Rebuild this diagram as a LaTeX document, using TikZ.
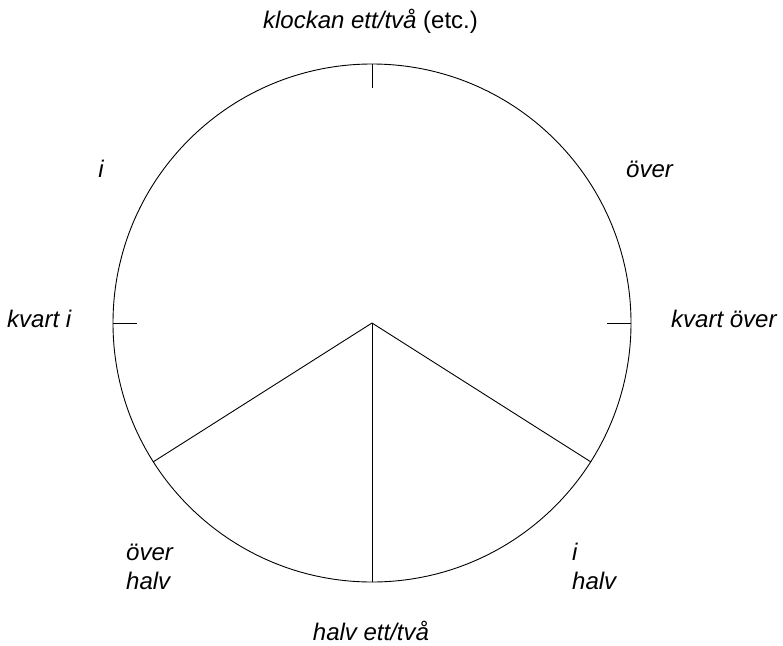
\documentclass[tikz,border=0pt]{standalone}
\usepackage{fontspec}
\setmainfont{Liberation Sans}
\begin{document}
\begin{tikzpicture}[x=1pt,y=-1pt,
  lbl/.style={font=\fontsize{24}{29}\selectfont\itshape, inner sep=0pt},
  ln/.style={line width=0.9pt}]
\useasboundingbox (0,0) rectangle (783,645);
\coordinate (c) at (372,323);
\draw[ln] (c) circle[radius=259];
\coordinate (t1) at (372,64); \coordinate (t2) at (372,88);
\coordinate (l1) at (113,323); \coordinate (l2) at (137,323);
\coordinate (r1) at (631,323); \coordinate (r2) at (607,323);
\coordinate (b) at (372,582);
\coordinate (bl) at (153,462);
\coordinate (br) at (591,462);
\draw[ln] (t1) -- (t2);
\draw[ln] (l1) -- (l2);
\draw[ln] (r1) -- (r2);
\draw[ln] (c) -- (b);
\draw[ln] (c) -- (bl);
\draw[ln] (c) -- (br);
\node[lbl, anchor=base] (top) at (370.5,28) {klockan ett/två \upshape(etc.)};
\node[lbl, anchor=base] (i) at (101,177) {i};
\node[lbl, anchor=base west] (over) at (626,177) {över};
\node[lbl, anchor=base west] (kvi) at (7,327) {kvart i};
\node[lbl, anchor=base west] (kvo) at (671,327) {kvart över};
\node[lbl, anchor=base west] (oh1) at (126,560) {över};
\node[lbl, anchor=base west] (oh2) at (126,589) {halv};
\node[lbl, anchor=base west] (ih1) at (572,560) {i};
\node[lbl, anchor=base west] (ih2) at (572,589) {halv};
\node[lbl, anchor=base] (bot) at (371,640) {halv ett/två};
\end{tikzpicture}
\end{document}
